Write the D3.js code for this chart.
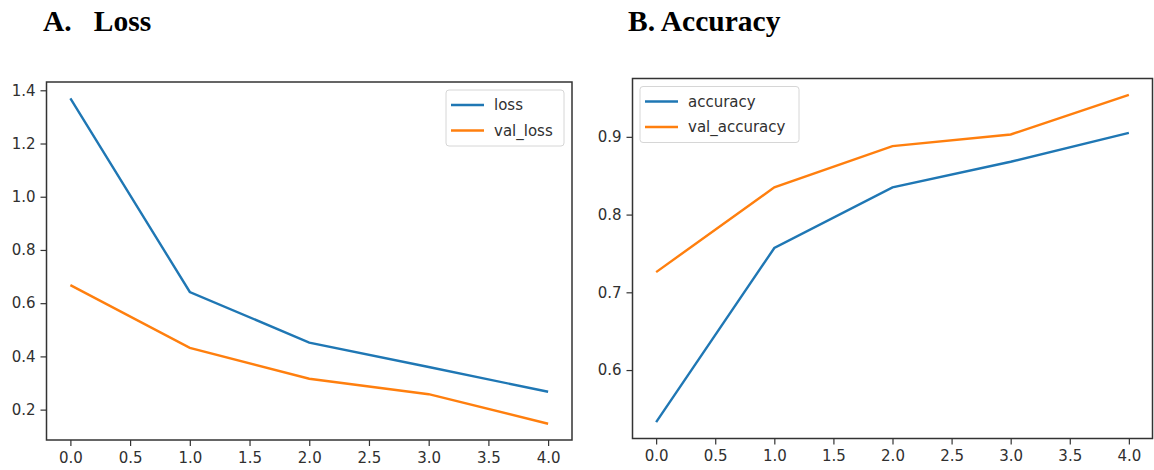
<!DOCTYPE html>
<html>
<head>
<meta charset="utf-8">
<script src="https://cdn.jsdelivr.net/npm/d3@7"></script>
<style>
  body { margin: 0; background: #fff; }
  .tick text { font-family: "DejaVu Sans", sans-serif; font-size: 15px; fill: #303030; }
  .tick line { stroke: #333; stroke-width: 1.2; }
  .title { font-family: "Liberation Serif", serif; font-weight: bold; font-size: 29.5px; fill: #000; }
  .legend text { font-family: "DejaVu Sans", sans-serif; font-size: 15px; fill: #303030; }
</style>
</head>
<body>
<div id="chart"></div>
<script>
// epochs
const epochs = [0, 1, 2, 3, 4]
const xTicks = [0, 0.5, 1, 1.5, 2, 2.5, 3, 3.5, 4]

// A. loss
const loss = [1.37, 0.642, 0.452, 0.36, 0.267]
const valLoss = [0.668, 0.432, 0.316, 0.258, 0.147]
const lossTicks = [0.2, 0.4, 0.6, 0.8, 1.0, 1.2, 1.4]

// B. accuracy
const accuracy = [0.533, 0.757, 0.835, 0.868, 0.905]
const valAccuracy = [0.726, 0.835, 0.888, 0.903, 0.954]
const accTicks = [0.6, 0.7, 0.8, 0.9]

const blue = "#1f77b4"
const orange = "#ff7f0e"

const svg = d3.select("#chart").append("svg")
    .attr("width", 1154)
    .attr("height", 470)

function panel(opts) {
    const g = svg.append("g")
    const all = opts.series.flatMap(s => s.values)
    const lo = d3.min(all), hi = d3.max(all)
    const pad = (hi - lo) * 0.05

    const x = d3.scaleLinear().domain([-0.2, 4.2]).range([opts.left, opts.right])
    const y = d3.scaleLinear().domain([lo - pad, hi + pad]).range([opts.bottom, opts.top])

    g.append("g")
        .attr("transform", "translate(0," + opts.bottom + ")")
        .call(d3.axisBottom(x).tickValues(xTicks).tickFormat(d3.format(".1f")).tickSize(6).tickPadding(6))
        .call(a => a.select(".domain").remove())

    g.append("g")
        .attr("transform", "translate(" + opts.left + ",0)")
        .call(d3.axisLeft(y).tickValues(opts.yTicks).tickFormat(d3.format(".1f")).tickSize(6).tickPadding(5))
        .call(a => a.select(".domain").remove())

    const line = d3.line().x((d, i) => x(epochs[i])).y(d => y(d))
    opts.series.forEach(s => {
        g.append("path")
            .datum(s.values)
            .attr("fill", "none")
            .attr("stroke", s.color)
            .attr("stroke-width", 2.4)
            .attr("d", line)
    })

    g.append("rect")
        .attr("x", opts.left).attr("y", opts.top)
        .attr("width", opts.right - opts.left).attr("height", opts.bottom - opts.top)
        .attr("fill", "none").attr("stroke", "#333").attr("stroke-width", 1.5)

    // legend
    const lg = g.append("g").attr("class", "legend")
    lg.append("rect")
        .attr("x", opts.legend.x).attr("y", opts.legend.y)
        .attr("width", opts.legend.w).attr("height", 56)
        .attr("rx", 3)
        .attr("fill", "#fff").attr("fill-opacity", 0.8)
        .attr("stroke", "#d6d6d6").attr("stroke-width", 1)
    opts.series.forEach((s, i) => {
        const cy = opts.legend.y + 15 + i * 25.5
        lg.append("line")
            .attr("x1", opts.legend.x + 5).attr("x2", opts.legend.x + 38)
            .attr("y1", cy).attr("y2", cy)
            .attr("stroke", s.color).attr("stroke-width", 2.4)
        lg.append("text")
            .attr("x", opts.legend.x + 48).attr("y", cy + 5)
            .text(s.name)
    })

    svg.append("text").attr("class", "title")
        .attr("x", opts.titleX).attr("y", 31)
        .attr("xml:space", "preserve")
        .text(opts.title)
}

panel({
    left: 46.5, right: 572, top: 82, bottom: 440,
    yTicks: lossTicks,
    series: [
        { name: "loss", values: loss, color: blue },
        { name: "val_loss", values: valLoss, color: orange }
    ],
    legend: { x: 446, y: 90, w: 118 },
    title: "A.   Loss", titleX: 43
})

panel({
    left: 632.5, right: 1152.5, top: 78.5, bottom: 438.5,
    yTicks: accTicks,
    series: [
        { name: "accuracy", values: accuracy, color: blue },
        { name: "val_accuracy", values: valAccuracy, color: orange }
    ],
    legend: { x: 640, y: 86.5, w: 159 },
    title: "B. Accuracy", titleX: 628
})
</script>
</body>
</html>
